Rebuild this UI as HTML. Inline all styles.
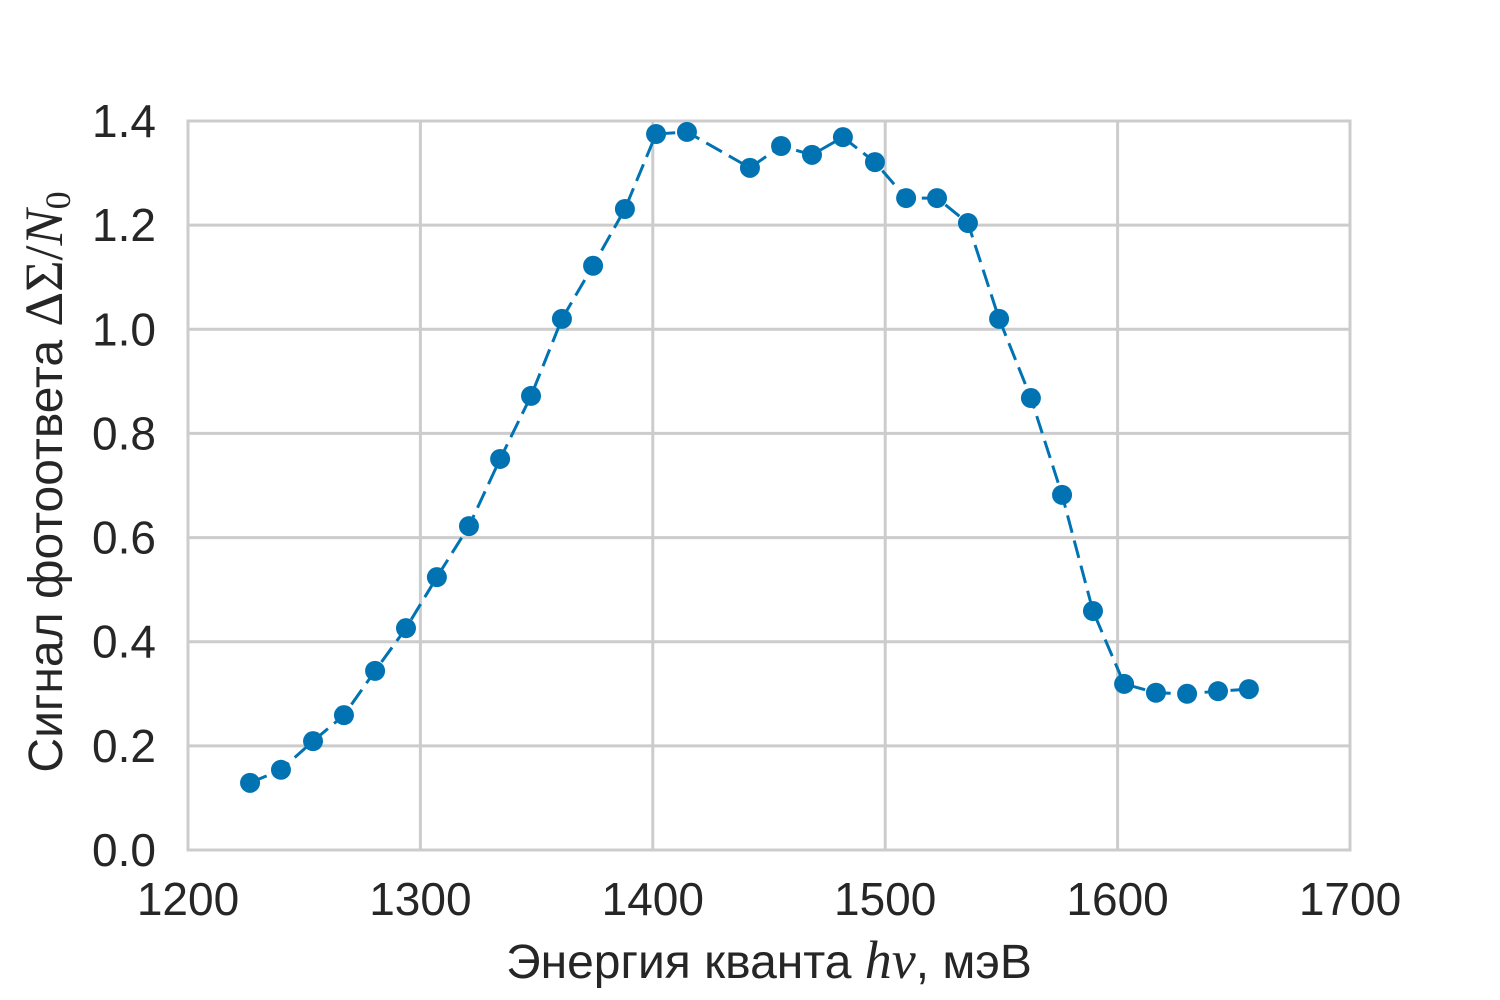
<!DOCTYPE html>
<html><head><meta charset="utf-8"><style>
body{margin:0;background:#fff;}
svg{display:block;font-family:"Liberation Sans",sans-serif;}
</style></head><body>
<svg id="chart" width="1500" height="1000" viewBox="0 0 1500 1000" xmlns="http://www.w3.org/2000/svg"></svg>
<script>
const energies=[1226.7,1240.0,1253.8,1267.1,1280.5,1293.8,1307.1,1320.9,1334.3,1347.6,1360.9,1374.3,1388.0,1401.4,1414.7,1441.8,1455.2,1468.5,1481.8,1495.6,1509.0,1522.3,1535.6,1549.0,1562.7,1576.1,1589.4,1602.8,1616.5,1629.9,1643.2,1656.5];
const signal=[0.129,0.154,0.209,0.259,0.344,0.426,0.524,0.622,0.751,0.872,1.020,1.122,1.231,1.375,1.379,1.310,1.352,1.335,1.369,1.321,1.252,1.252,1.204,1.020,0.868,0.682,0.459,0.319,0.302,0.300,0.305,0.309];
const xTicks=[1200,1300,1400,1500,1600,1700];
const yTicks=[0.0,0.2,0.4,0.6,0.8,1.0,1.2,1.4];
const X0=188,X1=1350,Y0=850,Y1=121;
const sx=v=>X0+(v-1200)/500*(X1-X0);
const sy=v=>Y0-(v/1.4)*(Y0-Y1);
const svg=document.getElementById('chart');
const NS='http://www.w3.org/2000/svg';
function mk(tag,attrs,parent){const e=document.createElementNS(NS,tag);for(const k in attrs)e.setAttribute(k,attrs[k]);(parent||svg).appendChild(e);return e;}
const grid=mk('g',{});


xTicks.forEach(t=>{
  const l=mk('line',{x1:sx(t),x2:sx(t),y1:Y1,y2:Y0,stroke:'#cccccc','stroke-width':3},grid);
  
  
  const tx=mk('text',{x:sx(t),y:915,'font-size':46,fill:'#262626','text-anchor':'middle'});
  
  
  tx.textContent=t;
});
yTicks.forEach(t=>{
  const l=mk('line',{x1:X0,x2:X1,y1:sy(t),y2:sy(t),stroke:'#cccccc','stroke-width':3},grid);
  
  
  const tx=mk('text',{x:156,y:sy(t)+16,'font-size':46,fill:'#262626','text-anchor':'end'});
  
  
  tx.textContent=t.toFixed(1);
});
const frame=mk('rect',{x:X0,y:Y1,width:X1-X0,height:Y0-Y1,fill:'none',stroke:'#cccccc','stroke-width':3});


const pts=energies.map((e,i)=>sx(e)+','+sy(signal[i])).join(' ');
const line=mk('polyline',{points:pts,fill:'none',stroke:'#0173b2','stroke-width':3,'stroke-dasharray':'18,8'});


energies.forEach((e,i)=>{
  const c=mk('circle',{cx:sx(e),cy:sy(signal[i]),r:10,fill:'#0173b2'});
  
  
});
const xl=mk('text',{x:769,y:978,'font-size':48,fill:'#262626','text-anchor':'middle'});


xl.innerHTML='Энергия кванта <tspan font-family="Liberation Serif" font-style="italic" font-size="54">hν</tspan>, мэВ';
const yl=mk('text',{x:0,y:0,'font-size':48,fill:'#262626','text-anchor':'middle',transform:'translate(62,482) rotate(-90)'});


yl.innerHTML='Сигнал фотоответа <tspan font-family="Liberation Serif" font-size="54">ΔΣ/</tspan><tspan font-family="Liberation Serif" font-style="italic" font-size="54">N</tspan><tspan font-family="Liberation Serif" font-size="36" dy="8">0</tspan>';
</script>
</body></html>
